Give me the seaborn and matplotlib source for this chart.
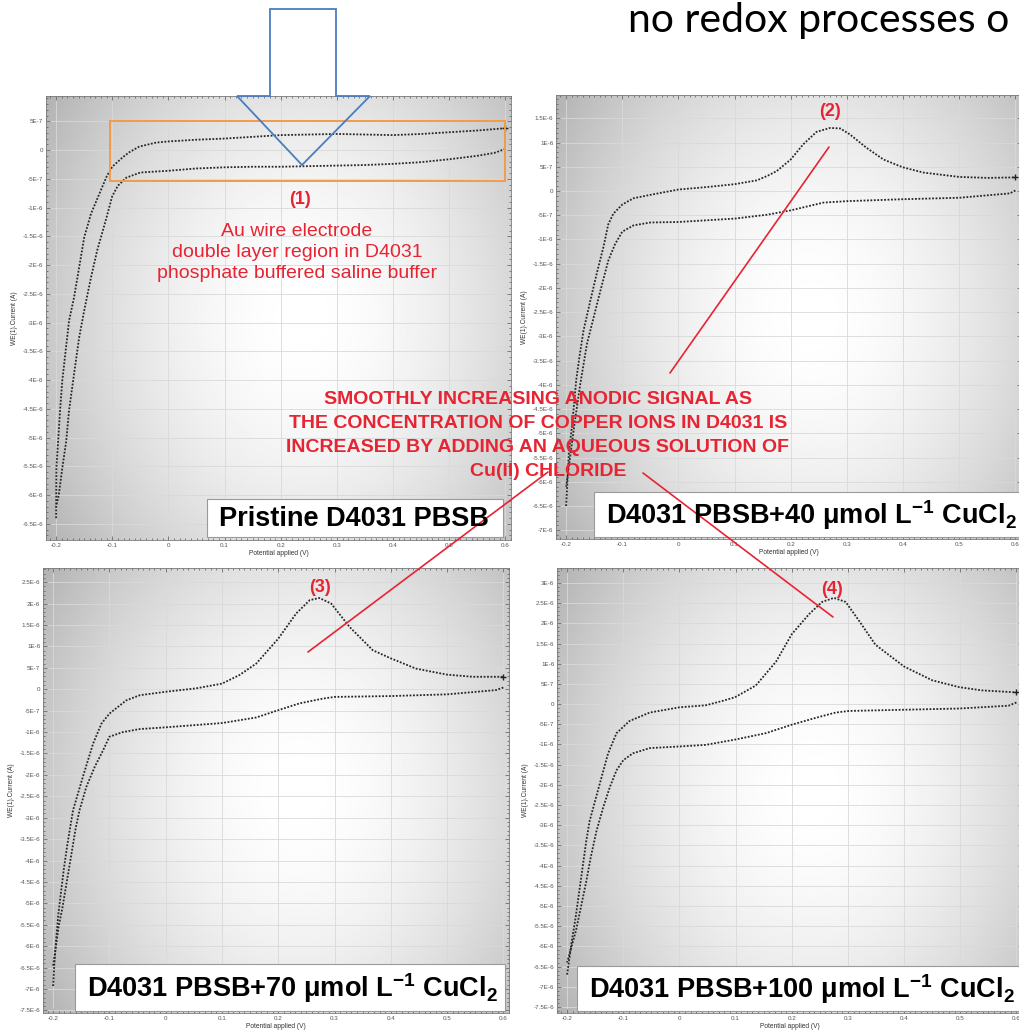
import numpy as np
import pandas as pd
import seaborn as sns
import matplotlib.pyplot as plt
from matplotlib.patches import Rectangle, Polygon
from matplotlib.ticker import MultipleLocator, FuncFormatter

# cyclic voltammograms, potential in V, current in uA
# anodic sweep (upper branch), -0.2 -> 0.6 V
p1_up_x = [-0.200, -0.1995, -0.196, -0.193, -0.189, -0.183, -0.177, -0.168, -0.159, -0.150, -0.138, -0.123,
           -0.110, -0.100, -0.082, -0.070, -0.052, -0.022, 0.000, 0.050, 0.100, 0.150, 0.200, 0.250, 0.300,
           0.350, 0.400, 0.450, 0.500, 0.550, 0.600]
p1_up_i = [-6.40, -5.52, -5.00, -4.53, -4.01, -3.49, -2.97, -2.56, -2.04, -1.52, -1.11, -0.76,
           -0.46, -0.29, -0.13, -0.04, 0.06, 0.13, 0.15, 0.18, 0.20, 0.23, 0.26, 0.27, 0.28,
           0.27, 0.26, 0.28, 0.31, 0.34, 0.38]
# return sweep (lower branch), 0.6 -> -0.2 V
p1_dn_x = [0.600, 0.580, 0.550, 0.500, 0.450, 0.400, 0.350, 0.300, 0.250, 0.200, 0.150, 0.100, 0.050,
           0.000, -0.050, -0.075, -0.090, -0.100, -0.111, -0.127, -0.138, -0.150, -0.159, -0.168,
           -0.177, -0.182, -0.189, -0.195, -0.200]
p1_dn_i = [0.02, -0.05, -0.10, -0.16, -0.21, -0.24, -0.26, -0.27, -0.28, -0.29, -0.29, -0.30, -0.32,
           -0.36, -0.39, -0.48, -0.62, -0.80, -1.20, -1.75, -2.22, -2.79, -3.26, -3.89,
           -4.53, -5.06, -5.53, -5.98, -6.20]

p2_up_x = [-0.200, -0.195, -0.189, -0.182, -0.176, -0.169, -0.157, -0.145, -0.133, -0.125, -0.116, -0.100,
           -0.080, -0.050, 0.000, 0.050, 0.100, 0.140, 0.158, 0.175, 0.200, 0.222, 0.246, 0.270, 0.288,
           0.305, 0.335, 0.365, 0.399, 0.436, 0.500, 0.550, 0.600]
p2_up_i = [-6.50, -5.40, -4.80, -3.90, -3.40, -2.88, -2.27, -1.68, -1.13, -0.69, -0.47, -0.28,
           -0.15, -0.08, 0.03, 0.08, 0.14, 0.22, 0.31, 0.41, 0.65, 0.96, 1.22, 1.30, 1.29,
           1.17, 0.89, 0.65, 0.49, 0.38, 0.29, 0.27, 0.28]
p2_dn_x = [0.600, 0.590, 0.500, 0.400, 0.300, 0.258, 0.200, 0.158, 0.100, 0.000, -0.050, -0.080, -0.100,
           -0.113, -0.125, -0.139, -0.151, -0.163, -0.175, -0.185, -0.193, -0.200]
p2_dn_i = [0.01, -0.05, -0.14, -0.17, -0.21, -0.24, -0.40, -0.49, -0.57, -0.64, -0.65, -0.71, -0.84,
           -1.10, -1.44, -2.06, -2.61, -3.16, -4.00, -4.80, -5.50, -6.10]

p3_up_x = [-0.200, -0.198, -0.195, -0.191, -0.186, -0.181, -0.175, -0.170, -0.1645, -0.147, -0.129, -0.114,
           -0.100, -0.070, -0.046, 0.000, 0.054, 0.100, 0.131, 0.161, 0.200, 0.232, 0.256, 0.273, 0.294,
           0.327, 0.368, 0.400, 0.445, 0.500, 0.546, 0.600]
p3_up_i = [-6.93, -6.45, -5.90, -5.28, -4.74, -4.20, -3.65, -3.25, -2.82, -2.04, -1.27, -0.80,
           -0.57, -0.26, -0.14, -0.06, 0.02, 0.13, 0.33, 0.60, 1.18, 1.77, 2.08, 2.13, 2.00,
           1.45, 0.91, 0.72, 0.48, 0.34, 0.29, 0.29]
p3_dn_x = [0.600, 0.587, 0.500, 0.400, 0.300, 0.279, 0.238, 0.200, 0.161, 0.100, 0.000, -0.046, -0.076,
           -0.100, -0.111, -0.126, -0.141, -0.153, -0.160, -0.166, -0.172, -0.178, -0.184, -0.190,
           -0.196, -0.200]
p3_dn_i = [0.04, -0.02, -0.12, -0.16, -0.18, -0.22, -0.33, -0.49, -0.66, -0.79, -0.89, -0.93, -1.00,
           -1.11, -1.42, -1.81, -2.28, -2.82, -3.25, -3.73, -4.20, -4.67, -5.14, -5.52,
           -6.09, -6.46]

p4_up_x = [-0.200, -0.192, -0.185, -0.178, -0.172, -0.166, -0.160, -0.142, -0.127, -0.112, -0.089, -0.053,
           0.000, 0.047, 0.077, 0.099, 0.136, 0.172, 0.200, 0.231, 0.254, 0.275, 0.296, 0.320, 0.349,
           0.400, 0.450, 0.498, 0.538, 0.600]
p4_up_i = [-6.70, -5.90, -5.30, -4.60, -4.00, -3.40, -2.90, -1.98, -1.22, -0.72, -0.42, -0.21,
           -0.08, -0.03, 0.08, 0.17, 0.46, 1.05, 1.73, 2.23, 2.53, 2.63, 2.53, 2.06, 1.47,
           0.93, 0.59, 0.42, 0.34, 0.29]
p4_dn_x = [0.600, 0.586, 0.498, 0.400, 0.302, 0.278, 0.243, 0.200, 0.154, 0.099, 0.047, 0.000, -0.053,
           -0.083, -0.100, -0.112, -0.124, -0.136, -0.148, -0.158, -0.166, -0.175, -0.184, -0.192, -0.200]
p4_dn_i = [0.04, -0.04, -0.11, -0.14, -0.17, -0.21, -0.34, -0.51, -0.72, -0.88, -1.01, -1.05, -1.09,
           -1.22, -1.39, -1.64, -2.06, -2.57, -3.16, -3.80, -4.40, -5.00, -5.60, -6.00, -6.40]

x_ticks = [-0.2, -0.1, 0.0, 0.1, 0.2, 0.3, 0.4, 0.5, 0.6]
# y tick range per panel in uA (lowest, highest), step 0.5 uA
y_tick_ranges = [(-6.5, 0.5), (-7.0, 1.5), (-7.5, 2.5), (-7.5, 3.0)]
y_limits = [(-6.78, 0.94), (-7.18, 1.98), (-7.56, 2.83), (-7.65, 3.37)]

panel_names = [r"Pristine D4031 PBSB",
               r"D4031 PBSB+40 μmol L$^{\mathbf{-1}}$ CuCl$_{\mathbf{2}}$",
               r"D4031 PBSB+70 μmol L$^{\mathbf{-1}}$ CuCl$_{\mathbf{2}}$",
               r"D4031 PBSB+100 μmol L$^{\mathbf{-1}}$ CuCl$_{\mathbf{2}}$"]
peak_labels = ["(1)", "(2)", "(3)", "(4)"]
note_lines = ["Au wire electrode", "double layer region in D4031", "phosphate buffered saline buffer"]
centre_lines = ["SMOOTHLY INCREASING ANODIC SIGNAL AS",
                "THE CONCENTRATION OF COPPER IONS IN D4031 IS",
                "INCREASED BY ADDING AN AQUEOUS SOLUTION OF",
                "Cu(II) CHLORIDE"]
top_note = "no redox processes o"

sns.set_style("ticks")
plt.rcParams['font.family'] = ['Liberation Sans', 'DejaVu Sans']
plt.rcParams['mathtext.fontset'] = 'custom'
plt.rcParams['mathtext.rm'] = 'Liberation Sans'
plt.rcParams['mathtext.bf'] = 'Liberation Sans:bold'
plt.rcParams['mathtext.it'] = 'Liberation Sans:italic'

W, H = 1019, 1030
fig = plt.figure(figsize=(W / 100, H / 100), dpi=100)
fig.patch.set_facecolor('white')

# panel boxes in pixels: left, top, right, bottom
boxes = [(46, 96, 511, 540), (556, 95, 1021, 539), (43, 568, 509, 1013), (557, 568, 1022, 1013)]
curves = [(p1_up_x, p1_up_i, p1_dn_x, p1_dn_i), (p2_up_x, p2_up_i, p2_dn_x, p2_dn_i),
          (p3_up_x, p3_up_i, p3_dn_x, p3_dn_i), (p4_up_x, p4_up_i, p4_dn_x, p4_dn_i)]

red = '#e62432'


def sci(v, pos):
    if abs(v) < 1e-12:
        return '0'
    m, e = f"{v:.1E}".split('E')
    m = m.rstrip('0').rstrip('.')
    return f"{m}E{int(e)}"


def shade(ax):
    u, v = np.meshgrid(np.linspace(0, 1, 300), np.linspace(0, 1, 300))
    r = np.sqrt(((u - 0.55) / 0.6) ** 2 + ((v - 0.5) / 0.8) ** 2)
    g = 1 - 0.25 * np.clip(r, 0, 1.3) ** 1.8
    ax.imshow(g, extent=(0, 1, 0, 1), transform=ax.transAxes, cmap='gray', vmin=0, vmax=1,
              aspect='auto', zorder=0, interpolation='bilinear', origin='lower')


axes = []
for k, (l, t, r, b) in enumerate(boxes):
    ax = fig.add_axes([l / W, 1 - b / H, (r - l) / W, (b - t) / H])
    shade(ax)
    ux, ui, dx, di = curves[k]
    up = pd.DataFrame({'potential': ux, 'current': np.array(ui) * 1e-6})
    dn = pd.DataFrame({'potential': dx, 'current': np.array(di) * 1e-6})
    for df in (up, dn):
        sns.lineplot(data=df, x='potential', y='current', sort=False, estimator=None,
                     color='#262626', lw=1.3, linestyle=(0, (1, 0.9)), ax=ax, zorder=3)
    ax.plot(up['potential'].iloc[-1], up['current'].iloc[-1], '+', color='#222222', ms=5, mew=1, zorder=4)

    lo, hi = y_tick_ranges[k]
    ax.set_yticks(np.arange(lo, hi + 0.01, 0.5) * 1e-6)
    ax.set_xticks(x_ticks)
    ax.xaxis.set_major_formatter(FuncFormatter(lambda v, p: '0' if abs(v) < 1e-9 else f"{v:g}"))
    ax.yaxis.set_major_formatter(FuncFormatter(sci))
    ax.xaxis.set_minor_locator(MultipleLocator(0.01))
    ax.yaxis.set_minor_locator(MultipleLocator(1e-7))
    ax.set_xlim(-0.218, 0.61)
    ax.set_ylim(y_limits[k][0] * 1e-6, y_limits[k][1] * 1e-6)
    ax.set_axisbelow(True)
    ax.grid(True, which='major', color='#d9d9d9', lw=0.6)
    ax.tick_params(which='both', direction='in', top=True, right=True, colors='#555555',
                   labelsize=4.5, pad=2, width=0.5)
    ax.tick_params(which='major', length=3)
    ax.tick_params(which='minor', length=1.5)
    for s in ax.spines.values():
        s.set_color('#7a7a7a')
        s.set_linewidth(0.6)
    ax.set_xlabel('Potential applied (V)', fontsize=4.8, color='#333333', labelpad=1.5)
    ax.set_ylabel('WE(1).Current (A)', fontsize=4.8, color='#333333', labelpad=3)
    axes.append(ax)

# orange box around the double layer region of panel 1
axes[0].add_patch(Rectangle((-0.104, -5.4e-7), 0.703, 1.045e-6, fill=False, ec='#f59a4a', lw=1.4, zorder=5))

# overlay in pixel coordinates for the annotations
ov = fig.add_axes([0, 0, 1, 1], zorder=10)
ov.set_xlim(0, W)
ov.set_ylim(H, 0)
ov.axis('off')
ov.patch.set_alpha(0)

ov.text(628, 32, top_note, fontsize=29.5, family=['Lato', 'DejaVu Sans'],
        color='black', va='baseline', ha='left')

ov.add_patch(Polygon([(270, 9), (336, 9), (336, 96), (370, 96), (302, 165), (237, 96), (270, 96)],
                     closed=True, fill=False, ec='#4a7dbd', lw=1.3))

ov.text(300, 200, peak_labels[0], color=red, fontsize=13, weight='bold', ha='center', va='center')
for j, line in enumerate(note_lines):
    ov.text(297, 232 + j * 20.5, line, color=red, fontsize=14, ha='center', va='center')
ov.text(830, 112, peak_labels[1], color=red, fontsize=13, weight='bold', ha='center', va='center')
ov.text(320, 587, peak_labels[2], color=red, fontsize=13, weight='bold', ha='center', va='center')
ov.text(832, 589, peak_labels[3], color=red, fontsize=13, weight='bold', ha='center', va='center')

# red pointer lines
for (x0, y0), (x1, y1) in [((829, 147), (670, 373)), ((308, 652), (548, 472)), ((643, 473), (833, 617))]:
    ov.plot([x0, x1], [y0, y1], color=red, lw=1.2)

for j, line in enumerate(centre_lines):
    cx = 548 if j == 3 else 538
    ov.text(cx, 400 + j * 23.7, line, color=red, fontsize=14, weight='bold', ha='center', va='center')

# white name boxes of the panels
name_boxes = [(207, 499, 503, 537), (594, 492, 1030, 537), (75, 964, 505, 1011), (577, 966, 1030, 1011)]
for (l, t, r, b), name in zip(name_boxes, panel_names):
    ov.add_patch(Rectangle((l, t), r - l, b - t, fc='white', ec='#9a9a9a', lw=0.8))
    ov.text(l + 12, (t + b) / 2 + 1, name, fontsize=19.5, weight='bold', color='black',
            ha='left', va='center')

fig.savefig('out.png', dpi=100)
